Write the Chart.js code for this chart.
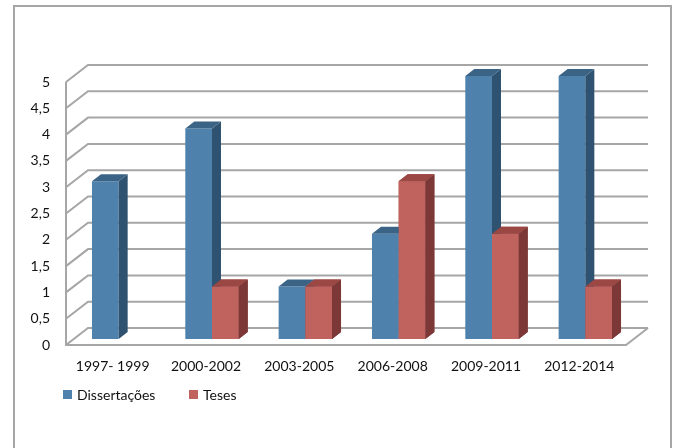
<!DOCTYPE html>
<html>
<head>
<meta charset="utf-8">
<script src="https://cdn.jsdelivr.net/npm/chart.js@4.4.1/dist/chart.umd.min.js"></script>
<style>
  body { margin: 0; background: #fff; }
  #wrap { position: relative; width: 677px; height: 448px; }
  .leg { position: absolute; top: 386px; font: 14px Lato, sans-serif; color: #111; display: flex; align-items: center; }
  .leg span.box { display: inline-block; width: 9px; height: 9px; margin-right: 5px; }
</style>
</head>
<body>
<div id="wrap">
  <canvas id="grafico" width="677" height="448"></canvas>
  <div class="leg" style="left:63px"><span class="box" style="background:#4F81AD"></span>Dissertações</div>
  <div class="leg" style="left:189px"><span class="box" style="background:#C0625E"></span>Teses</div>
</div>
<script>
const categorias = ['1997- 1999', '2000-2002', '2003-2005', '2006-2008', '2009-2011', '2012-2014'];
const dissertacoes = [3, 4, 1, 2, 5, 5];
const teses = [0, 1, 1, 3, 2, 1];

// profundidade das paredes e das barras (efeito 3D)
const WX = 22, WY = 17;
const BX = 9, BY = 7;
const DESLOC = { x: 6, y: -6 };

const cores = {
    azul: { frente: '#4F81AD', lado: '#2F5270', topo: '#3B6386' },
    vermelho: { frente: '#C0625E', lado: '#7B3836', topo: '#9B4744' }
};

function desenharFaces(ctx, ds, meta) {
    const c = ds.cores3d;
    meta.data.forEach((el, i) => {
        if (!(ds.data[i] > 0)) return;
        const { x, y, base, width } = el.getProps(['x', 'y', 'base', 'width'], true);
        const l = x - width / 2, r = x + width / 2;
        ctx.fillStyle = c.lado;
        ctx.beginPath();
        ctx.moveTo(r, y);
        ctx.lineTo(r + BX, y - BY);
        ctx.lineTo(r + BX, base - BY);
        ctx.lineTo(r, base);
        ctx.closePath();
        ctx.fill();
        ctx.fillStyle = c.topo;
        ctx.beginPath();
        ctx.moveTo(l, y);
        ctx.lineTo(l + BX, y - BY);
        ctx.lineTo(r + BX, y - BY);
        ctx.lineTo(r, y);
        ctx.closePath();
        ctx.fill();
    });
}

const cena3d = {
    id: 'cena3d',
    beforeDraw(chart) {
        const ctx = chart.ctx;
        ctx.save();
        ctx.strokeStyle = '#A6A6A6';
        ctx.lineWidth = 2;
        ctx.strokeRect(14, 6, 657, 500);
        ctx.restore();
    },
    beforeDatasetsDraw(chart) {
        const ctx = chart.ctx;
        const ys = chart.scales.y;
        const { left, right } = chart.chartArea;
        const y0 = ys.getPixelForValue(0);
        const y5 = ys.getPixelForValue(5);
        ctx.save();
        ctx.strokeStyle = '#A6A6A6';
        ctx.lineWidth = 2;
        ctx.beginPath();
        ys.ticks.forEach(t => {
            const y = ys.getPixelForValue(t.value);
            ctx.moveTo(left, y);
            ctx.lineTo(left + WX, y - WY);
            ctx.lineTo(right + WX, y - WY);
        });
        ctx.moveTo(left, y5);
        ctx.lineTo(left, y0);
        ctx.lineTo(right, y0);
        ctx.lineTo(right + WX, y0 - WY);
        ctx.stroke();
        ctx.restore();
    },
    beforeDatasetDraw(chart) {
        chart.ctx.save();
        chart.ctx.translate(DESLOC.x, DESLOC.y);
    },
    afterDatasetDraw(chart, args) {
        desenharFaces(chart.ctx, chart.data.datasets[args.index], args.meta);
        chart.ctx.restore();
    },
    // as barras vermelhas ficam à frente das faces laterais azuis: redesenha por cima
    afterDatasetsDraw(chart) {
        const ctx = chart.ctx;
        ctx.save();
        ctx.translate(DESLOC.x, DESLOC.y);
        const meta = chart.getDatasetMeta(1);
        meta.data.forEach(el => el.draw(ctx));
        desenharFaces(ctx, chart.data.datasets[1], meta);
        ctx.restore();
    }
};

new Chart(document.getElementById('grafico'), {
    type: 'bar',
    data: {
        labels: categorias,
        datasets: [
            { label: 'Dissertações', data: dissertacoes, backgroundColor: cores.azul.frente, cores3d: cores.azul, clip: false },
            { label: 'Teses', data: teses, backgroundColor: cores.vermelho.frente, cores3d: cores.vermelho, clip: false }
        ]
    },
    options: {
        responsive: false,
        animation: false,
        categoryPercentage: 0.572,
        barPercentage: 1,
        layout: { padding: { left: 0, right: 51, top: 82, bottom: 63 } },
        plugins: { legend: { display: false }, tooltip: { enabled: false } },
        scales: {
            x: {
                grid: { display: false, drawTicks: false },
                border: { display: false },
                ticks: { padding: 13, color: '#111', font: { family: 'Lato', size: 14 } },
                afterFit: s => { s.height = 40; }
            },
            y: {
                min: 0, max: 5,
                grid: { display: false, drawTicks: false },
                border: { display: false },
                ticks: {
                    stepSize: 0.5, padding: 16, color: '#111', font: { family: 'Lato', size: 14 },
                    callback: v => String(v).replace('.', ',')
                },
                afterFit: s => { s.width = 66; }
            }
        }
    },
    plugins: [cena3d]
});
</script>
</body>
</html>
